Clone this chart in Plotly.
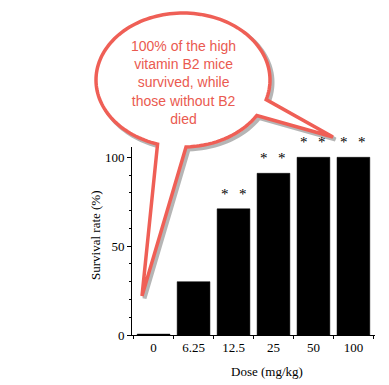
import numpy as np
import plotly.graph_objects as go

# ---- data ----
doses = ["0", "6.25", "12.5", "25", "50", "100"]
survival = [0.5, 30, 71, 91, 100, 100]
significant = [False, False, True, True, True, True]
y_ticks = [0, 50, 100]
bubble_text = ["100% of the high", "vitamin B2 mice", "survived, while",
               "those without B2", "died"]

OFF = 8  # page body margin
W, H = 389 - OFF, 385 - OFF
L, R, T, B = 132 - OFF, 14, 147 - OFF, 50
PW, PH = W - L - R, H - T - B

def px(x):
    return (x - OFF - L) / PW

def py(y):
    return (H - B - (y - OFF)) / PH

fig = go.Figure()
fig.add_trace(go.Bar(
    x=doses, y=survival,
    marker=dict(color="black", line=dict(color="black", width=0.5)),
    width=0.82, hoverinfo="skip"))

# asterisks
for i, (v, s) in enumerate(zip(survival, significant)):
    if s:
        for sh in (-9, 9):
            fig.add_annotation(x=i, y=v, xref="x", yref="y", text="*",
                               showarrow=False, xshift=sh, yshift=5,
                               xanchor="center", yanchor="bottom",
                               font=dict(family="Liberation Serif", size=15, color="black"))

# speech bubble outline (pixel geometry -> paper)
cx, cy, rx, ry = 183, 80, 87, 67
def ell(a0, a1, n):
    a = np.radians(np.linspace(a0, a1, n))
    return list(zip(cx + rx * np.cos(a), cy + ry * np.sin(a)))

pts = []
pts += ell(107, 377, 120)
pts.append((333, 137))
pts += ell(32, 88, 20)
pts.append((142, 296))

def path_of(points, dx=0, dy=0):
    s = ""
    for i, (x, y) in enumerate(points):
        s += ("M" if i == 0 else "L") + f"{px(x+dx):.5f},{py(y+dy):.5f} "
    return s + "Z"

fig.add_shape(type="path", path=path_of(pts, 2.5, 2.5), xref="paper", yref="paper",
              line=dict(color="rgba(90,90,90,0.45)", width=4), fillcolor="rgba(0,0,0,0)")
fig.add_shape(type="path", path=path_of(pts), xref="paper", yref="paper",
              line=dict(color="#EF5F56", width=3.5), fillcolor="white")

fig.add_annotation(x=px(183.5), y=py(83), xref="paper", yref="paper",
                   xanchor="center", yanchor="middle",
                   text="<br>".join(bubble_text), showarrow=False, align="center",
                   font=dict(family="Liberation Sans", size=14, color="#EA5A50"))

# axis titles
fig.add_annotation(x=px(266.7), y=py(371), xref="paper", yref="paper",
                   xanchor="center", yanchor="middle",
                   text="Dose (mg/kg)", showarrow=False,
                   font=dict(family="Liberation Serif", size=13, color="black"))
fig.add_annotation(x=px(95), y=py(235), xref="paper", yref="paper",
                   xanchor="center", yanchor="middle",
                   text="Survival rate (%)", showarrow=False, textangle=-90,
                   font=dict(family="Liberation Serif", size=13, color="black"))

fig.update_layout(
    width=W, height=H, margin=dict(l=L, r=R, t=T, b=B),
    paper_bgcolor="white", plot_bgcolor="white", showlegend=False,
    xaxis=dict(type="category", range=[-0.54, 5.54], showline=True, linecolor="black",
               linewidth=1, ticks="outside", tickson="boundaries", ticklen=3,
               tickcolor="black", showgrid=False, zeroline=False,
               tickfont=dict(family="Liberation Serif", size=13, color="black")),
    yaxis=dict(range=[0, 105.8], showline=True, linecolor="black", linewidth=1,
               tickvals=y_ticks, ticks="outside", ticklen=4, tickcolor="black",
               showgrid=False, zeroline=False,
               minor=dict(dtick=10, ticks="outside", ticklen=2, tickcolor="black"),
               tickfont=dict(family="Liberation Serif", size=13, color="black")),
)
fig.write_html("out.html")
